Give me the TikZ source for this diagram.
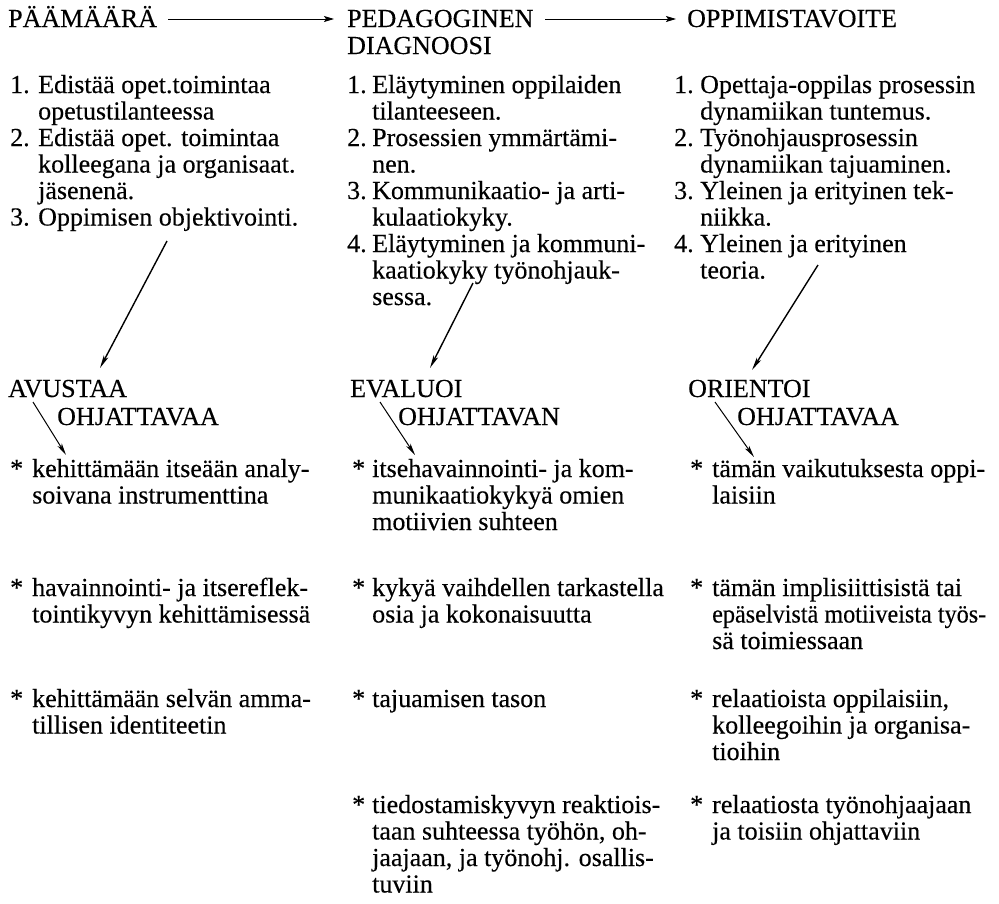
\documentclass[tikz,border=0pt]{standalone}
\usepackage{graphicx}
\usepackage{fontspec}
\setmainfont[FakeBold=0.3]{Liberation Serif}
\usetikzlibrary{arrows.meta}
\newcommand\ML[2][26.5pt]{\vtop{\baselineskip=#1\lineskiplimit=-100pt\lineskip=0pt\halign{##\hfil\cr#2\crcr}}}
\tikzset{
  txt/.style={anchor=base west, inner sep=0pt, font=\fontsize{26}{26}\selectfont},
  harrow/.style={line width=0.9pt, -{Stealth[length=10pt,width=6pt,inset=2pt]}},
  sarrow/.style={line width=1.4pt, -{Stealth[length=13pt,width=5pt,inset=3pt]}},
  barrow/.style={line width=1pt, -{Stealth[length=12pt,width=5pt,inset=3pt]}}
}
\begin{document}
\begin{tikzpicture}[x=1pt,y=-1pt]
\useasboundingbox (0,0) rectangle (999,903);
% top headers
\node[txt] (h1) at (8,27) {PÄÄMÄÄRÄ};
\node[txt] (h2) at (347,27) {\ML[27pt]{PEDAGOGINEN\cr DIAGNOOSI}};
\node[txt] (h3) at (687,27) {OPPIMISTAVOITE};
\coordinate (a1s) at (168,19); \coordinate (a1e) at (334,19);
\coordinate (a2s) at (545,19); \coordinate (a2e) at (676,19);
\draw[harrow] (a1s) -- (a1e);
\draw[harrow] (a2s) -- (a2e);
% column 1 items
\node[txt] (n11) at (10,93) {1.};
\node[txt] (t11) at (38,93) {\ML{Edistää opet.toimintaa\cr opetustilanteessa}};
\node[txt] (n12) at (10,146) {2.};
\node[txt] (t12) at (38,146) {\ML{Edistää opet. toimintaa\cr kolleegana ja organisaat.\cr jäsenenä.}};
\node[txt] (n13) at (10,225.5) {3.};
\node[txt] (t13) at (38,225.5) {Oppimisen objektivointi.};
% column 2 items
\node[txt] (n21) at (347,93) {1.};
\node[txt] (t21) at (372,93) {\ML{Eläytyminen oppilaiden\cr tilanteeseen.}};
\node[txt] (n22) at (347,146) {2.};
\node[txt] (t22) at (372,146) {\ML{Prosessien ymmärtämi-\cr nen.}};
\node[txt] (n23) at (347,199) {3.};
\node[txt] (t23) at (372,199) {\ML{Kommunikaatio- ja arti-\cr kulaatiokyky.}};
\node[txt] (n24) at (347,252) {4.};
\node[txt] (t24) at (372,252) {\ML{Eläytyminen ja kommuni-\cr kaatiokyky työnohjauk-\cr sessa.}};
% column 3 items
\node[txt] (n31) at (674,93) {1.};
\node[txt] (t31) at (700,93) {\ML{Opettaja-oppilas prosessin\cr dynamiikan tuntemus.}};
\node[txt] (n32) at (674,146) {2.};
\node[txt] (t32) at (700,146) {\ML{Työnohjausprosessin\cr dynamiikan tajuaminen.}};
\node[txt] (n33) at (674,199) {3.};
\node[txt] (t33) at (700,199) {\ML{Yleinen ja erityinen tek-\cr niikka.}};
\node[txt] (n34) at (674,252) {4.};
\node[txt] (t34) at (700,252) {\ML{Yleinen ja erityinen\cr teoria.}};
% slanted arrows
\coordinate (s1) at (167,241); \coordinate (e1) at (100,368);
\coordinate (s2) at (473,283); \coordinate (e2) at (430,368);
\coordinate (s3) at (818,265); \coordinate (e3) at (752,370);
\draw[sarrow] (s1) -- (e1);
\draw[sarrow] (s2) -- (e2);
\draw[sarrow] (s3) -- (e3);
% lower headers
\node[txt] (v1) at (8,397) {AVUSTAA};
\node[txt] (o1) at (57,425) {OHJATTAVAA};
\node[txt] (v2) at (350,397) {EVALUOI};
\node[txt] (o2) at (398,425) {OHJATTAVAN};
\node[txt] (v3) at (688,397) {ORIENTOI};
\node[txt] (o3) at (737,425) {OHJATTAVAA};
\coordinate (d1s) at (33,402); \coordinate (d1e) at (66,455);
\coordinate (d2s) at (380,402); \coordinate (d2e) at (415,455);
\coordinate (d3s) at (715,402); \coordinate (d3e) at (754,457);
\draw[barrow] (d1s) -- (d1e);
\draw[barrow] (d2s) -- (d2e);
\draw[barrow] (d3s) -- (d3e);
% bullets column 1
\node[txt] (b11) at (10,477) {*};
\node[txt] (c11) at (32,477) {\ML{kehittämään itseään analy-\cr soivana instrumenttina}};
\node[txt] (b12) at (10,596) {*};
\node[txt] (c12) at (32,596) {\ML{havainnointi- ja itsereflek-\cr tointikyvyn kehittämisessä}};
\node[txt] (b13) at (10,707) {*};
\node[txt] (c13) at (32,707) {\ML{kehittämään selvän amma-\cr tillisen identiteetin}};
% bullets column 2
\node[txt] (b21) at (352,477) {*};
\node[txt] (c21) at (372,477) {\ML{itsehavainnointi- ja kom-\cr munikaatiokykyä omien\cr motiivien suhteen}};
\node[txt] (b22) at (352,596) {*};
\node[txt] (c22) at (372,596) {\ML{kykyä vaihdellen tarkastella\cr osia ja kokonaisuutta}};
\node[txt] (b23) at (352,707) {*};
\node[txt] (c23) at (372,707) {tajuamisen tason};
\node[txt] (b24) at (352,813) {*};
\node[txt] (c24) at (372,813) {\ML{tiedostamiskyvyn reaktiois-\cr taan suhteessa työhön, oh-\cr jaajaan, ja työnohj. osallis-\cr tuviin}};
% bullets column 3
\node[txt] (b31) at (690,477) {*};
\node[txt] (c31) at (712,477) {\ML{tämän vaikutuksesta oppi-\cr laisiin}};
\node[txt] (b32) at (690,596) {*};
\node[txt] (c32) at (712,596) {\ML{tämän implisiittisistä tai\cr \scalebox{0.93}[1]{epäselvistä motiiveista työs-}\cr sä toimiessaan}};
\node[txt] (b33) at (690,707) {*};
\node[txt] (c33) at (712,707) {\ML{relaatioista oppilaisiin,\cr kolleegoihin ja organisa-\cr tioihin}};
\node[txt] (b34) at (690,813) {*};
\node[txt] (c34) at (712,813) {\ML{relaatiosta työnohjaajaan\cr ja toisiin ohjattaviin}};
\end{tikzpicture}
\end{document}
